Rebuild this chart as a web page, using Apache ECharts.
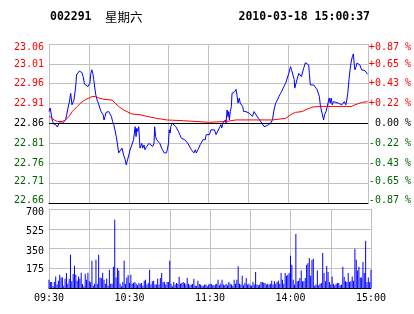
<!DOCTYPE html>
<html><head><meta charset="utf-8">
<script src="https://cdn.jsdelivr.net/npm/echarts@6/dist/echarts.min.js"></script>
<style>html,body{margin:0;padding:0;background:#fff}#c{width:414px;height:314px}</style>
</head><body><div id="c"></div>
<script>
const stockCode = '002291';
const weekday = '星期六';
const timestamp = '2010-03-18 15:00:37';
const prevClose = 22.86;
const priceTicks = [22.66, 22.71, 22.76, 22.81, 22.86, 22.91, 22.96, 23.01, 23.06];
const pctLabels = ['-0.87 %', '-0.65 %', '-0.43 %', '-0.22 %', '0.00 %', '+0.22 %', '+0.43 %', '+0.65 %', '+0.87 %'];
const timeLabels = ['09:30', '10:30', '11:30', '14:00', '15:00'];
const volTicks = [0, 175, 350, 525, 700];

const priceMinutes = [0,0.9,1.9,2.4,3.4,5.1,6.3,7.6,8.8,10.1,11.3,12.5,13.3,14.3,15.1,15.8,16.3,17.3,18.1,18.8,19.6,20.3,20.7,21.8,22.8,23.7,24.8,25.7,26.7,28.2,29.3,30.0,30.7,31.5,32.2,33.0,33.7,34.5,35.2,36.2,37.2,38.2,39.2,39.9,40.7,41.4,42.2,42.9,44.9,46.1,46.9,47.9,48.7,49.6,50.6,51.6,52.4,53.6,54.9,56.1,57.3,58.1,59.1,60.1,61.0,62.3,63.6,64.8,65.5,66.0,66.8,67.5,68.1,68.5,69.8,70.5,71.5,72.2,73.5,74.3,75.2,76.5,78.0,79.0,79.5,80.2,81.0,82.2,83.4,84.7,86.0,86.7,87.9,88.4,89.2,89.9,90.4,91.2,91.6,92.7,93.4,94.2,95.4,96.4,97.4,98.4,99.6,100.9,102.1,103.4,104.3,105.8,107.1,108.4,109.1,110.1,110.8,112.1,113.1,113.8,114.8,115.8,116.6,117.5,118.3,120.7,121.8,124.5,125.7,127.0,128.2,129.3,130.0,130.7,131.9,132.7,133.2,134.0,134.7,135.2,135.7,136.4,137.2,137.7,138.7,139.7,140.7,141.4,142.2,143.1,143.9,144.6,145.7,146.4,148.1,149.4,150.6,151.9,153.1,154.3,155.6,156.3,157.6,158.8,160.1,161.0,161.8,163.1,164.3,165.5,166.8,168.1,169.3,170.5,171.8,173.0,174.3,175.5,176.7,178.0,179.3,180.4,181.7,182.5,183.4,184.5,184.9,186.0,186.9,187.9,189.0,189.9,190.9,191.6,192.9,194.4,195.4,195.9,196.6,199.1,200.4,201.6,202.8,203.4,204.1,205.4,206.6,207.3,208.4,209.1,209.9,210.8,211.6,212.3,213.1,214.0,215.3,217.8,220.3,221.5,222.2,223.3,224.0,224.8,225.7,226.5,227.2,228.2,229.0,229.7,230.2,231.0,231.7,232.7,233.9,235.2,237.7,238.7,239.7];
const priceValues = [22.890,22.899,22.894,22.869,22.859,22.857,22.851,22.861,22.857,22.861,22.861,22.869,22.882,22.899,22.911,22.924,22.936,22.907,22.903,22.919,22.940,22.961,22.982,22.986,22.992,22.995,22.988,22.978,22.959,22.957,22.953,22.949,22.961,22.986,22.995,22.986,22.970,22.949,22.932,22.919,22.911,22.899,22.890,22.890,22.882,22.869,22.878,22.888,22.890,22.888,22.878,22.865,22.857,22.844,22.827,22.806,22.786,22.790,22.798,22.781,22.769,22.756,22.769,22.781,22.794,22.806,22.819,22.852,22.827,22.848,22.840,22.852,22.819,22.798,22.810,22.798,22.806,22.794,22.802,22.798,22.810,22.806,22.802,22.810,22.852,22.827,22.819,22.815,22.810,22.798,22.798,22.786,22.790,22.786,22.798,22.810,22.844,22.836,22.852,22.861,22.865,22.861,22.852,22.848,22.840,22.832,22.823,22.819,22.819,22.815,22.811,22.807,22.794,22.790,22.786,22.794,22.786,22.794,22.794,22.807,22.811,22.819,22.815,22.819,22.832,22.832,22.844,22.844,22.832,22.832,22.849,22.857,22.849,22.861,22.857,22.869,22.861,22.894,22.877,22.890,22.869,22.890,22.903,22.936,22.936,22.940,22.946,22.932,22.911,22.924,22.911,22.907,22.903,22.890,22.890,22.888,22.886,22.890,22.878,22.890,22.886,22.879,22.873,22.869,22.861,22.857,22.852,22.851,22.855,22.859,22.861,22.869,22.894,22.911,22.919,22.928,22.936,22.944,22.953,22.961,22.965,22.986,23.003,22.995,22.990,22.970,22.949,22.953,22.974,22.986,22.986,22.978,22.982,22.999,23.013,23.013,23.007,22.986,22.957,22.957,22.953,22.946,22.944,22.928,22.907,22.886,22.869,22.882,22.890,22.899,22.903,22.924,22.911,22.924,22.907,22.915,22.911,22.911,22.907,22.903,22.915,22.907,22.919,22.936,22.970,22.995,23.012,23.028,23.035,23.007,22.995,23.003,23.012,23.013,23.007,22.995,22.993,22.990,22.984];

const avgMinutes = [0,3.9,6.3,10.1,12.5,15.1,17.5,21.3,23.7,26.3,30.0,32.5,34.9,37.5,41.2,47.4,49.9,52.4,56.1,58.6,62.3,68.5,73.5,81.0,88.4,100.9,120.7,133.2,140.7,168.1,178.0,181.7,185.4,190.4,194.2,197.9,202.8,227.8,230.2,235.2,239.7];
const avgValues = [22.879,22.869,22.865,22.865,22.869,22.878,22.890,22.903,22.911,22.918,22.924,22.928,22.928,22.924,22.921,22.919,22.911,22.903,22.894,22.890,22.884,22.882,22.878,22.873,22.869,22.867,22.863,22.865,22.869,22.869,22.873,22.882,22.888,22.890,22.896,22.901,22.903,22.903,22.907,22.913,22.915];

const volumes = [
74,53,53,15,53,103,30,65,118,94,
94,21,83,133,38,83,295,59,124,198,
118,65,103,83,136,35,15,127,74,136,
59,50,242,21,38,251,35,295,94,89,
133,74,38,83,21,162,38,38,189,605,
94,177,154,38,15,53,242,35,94,112,
44,118,38,44,53,38,24,44,38,44,
21,65,74,30,44,162,30,59,65,30,
30,83,30,89,133,53,53,30,53,53,
242,35,15,53,30,44,38,100,38,44,
53,44,30,89,38,24,30,35,83,21,
21,65,35,30,21,21,30,30,15,30,
38,
35,24,24,30,38,74,24,38,74,30,
24,38,24,53,38,30,21,74,38,74,
192,38,30,109,24,44,89,30,38,24,
21,53,30,142,30,24,30,53,53,47,
44,30,38,30,38,65,30,59,38,53,
65,38,133,74,38,133,109,118,133,286,
207,74,30,478,59,65,89,154,59,59,
89,207,219,266,109,248,260,21,30,154,
24,38,44,310,133,59,195,142,53,30,
103,38,24,38,44,44,24,30,189,100,
59,53,133,53,59,103,65,348,251,154,
189,94,94,230,133,419,53,94,53,162
];

const MONO = "'DejaVu Sans Mono', monospace";
const RED = '#ff0000', GREEN = '#006400', GRIDC = '#c0c0c0', BLUE = '#0000ff';
const pStep = +(priceTicks[1] - priceTicks[0]).toFixed(2);
const nT = priceTicks.length - 1;
function tickIndex(v) { return Math.round((Number(v) - priceTicks[0]) / pStep); }
function colorFor(i) { return i === 4 ? '#000' : (i > 4 ? RED : GREEN); }
// small vertical nudges of the label text (px): negative = up
const labelShift = {0: -3, 1: -2, 7: 1, 8: 3};
function richFor(colorFn) {
  const r = {};
  for (let i = 0; i <= nT; i++) {
    const s = labelShift[i] || 0;
    r['p' + i] = {fontFamily: MONO, fontSize: 10, color: colorFn(i),
      padding: s >= 0 ? [2 * s, 0, 0, 0] : [0, 0, -2 * s, 0]};
  }
  return r;
}
const volShift = [0, 1, 2.5, 3, 3.5];
const volRich = {};
volTicks.forEach((t, i) => { volRich['v' + i] = {fontFamily: MONO, fontSize: 10, color: '#000', padding: [2 * volShift[i], 0, 0, 0]}; });

const chart = echarts.init(document.getElementById('c'), null, {renderer: 'canvas'});
const xBase = {type: 'value', min: 0, max: 240, interval: 30,
  axisLine: {show: true, lineStyle: {color: '#000', width: 1}}, axisTick: {show: false},
  splitLine: {show: true, lineStyle: {color: GRIDC, width: 1}}};
chart.setOption({
  animation: false,
  backgroundColor: '#fff',
  graphic: [
    {type: 'text', x: 50, y: 17, style: {text: stockCode, font: "bold 11.5px 'DejaVu Sans Mono'", fill: '#000', verticalAlign: 'middle'}},
    {type: 'text', x: 105, y: 17, style: {text: weekday, font: "12.5px 'Noto Sans CJK SC'", fill: '#000', verticalAlign: 'middle'}},
    {type: 'text', x: 370, y: 17, style: {text: timestamp, font: "bold 11.5px 'DejaVu Sans Mono'", fill: '#000', align: 'right', verticalAlign: 'middle'}}
  ],
  grid: [
    {left: 49, right: 43, top: 44, height: 159},
    {left: 49, right: 43, top: 209, height: 79}
  ],
  xAxis: [
    Object.assign({gridIndex: 0, axisLabel: {show: false}}, xBase),
    Object.assign({gridIndex: 1, axisLabel: {show: true, fontFamily: MONO, fontSize: 10, color: '#000', margin: 5,
      formatter: v => (v % 60 === 0 ? timeLabels[v / 60] : '')}}, xBase)
  ],
  yAxis: [
    {gridIndex: 0, type: 'value', position: 'left', min: priceTicks[0], max: priceTicks[nT], interval: pStep,
      axisLine: {show: false}, axisTick: {show: false},
      splitLine: {show: true, showMinLine: false, lineStyle: {color: GRIDC, width: 1}},
      axisLabel: {margin: 5, fontFamily: MONO, fontSize: 10,
        formatter: v => { const i = tickIndex(v); return '{p' + i + '|' + priceTicks[i].toFixed(2) + '}'; },
        rich: richFor(colorFor)}},
    {gridIndex: 0, type: 'value', position: 'right', min: priceTicks[0], max: priceTicks[nT], interval: pStep,
      axisLine: {show: false}, axisTick: {show: false}, splitLine: {show: false},
      axisLabel: {margin: 43, align: 'right', fontFamily: MONO, fontSize: 10,
        formatter: v => { const i = tickIndex(v); return '{p' + i + '|' + pctLabels[i] + '}'; },
        rich: richFor(colorFor)}},
    {gridIndex: 1, type: 'value', position: 'left', min: volTicks[0], max: volTicks[volTicks.length - 1], interval: volTicks[1] - volTicks[0],
      axisLine: {show: false}, axisTick: {show: false},
      splitLine: {show: true, showMinLine: false, lineStyle: {color: GRIDC, width: 1}},
      axisLabel: {margin: 5, fontFamily: MONO, fontSize: 10,
        formatter: v => { const i = volTicks.indexOf(v); return i <= 0 ? '' : '{v' + i + '|' + v + '}'; },
        rich: volRich}}
  ],
  series: [
    {type: 'line', xAxisIndex: 0, yAxisIndex: 0, data: priceMinutes.map((m, i) => [m, priceValues[i]]),
      showSymbol: false, symbol: 'none', lineStyle: {color: BLUE, width: 1}, itemStyle: {color: BLUE},
      markLine: {silent: true, symbol: 'none', label: {show: false},
        lineStyle: {color: '#000', type: 'solid', width: 1}, data: [{yAxis: prevClose}]}},
    {type: 'line', xAxisIndex: 0, yAxisIndex: 0, data: avgMinutes.map((m, i) => [m, avgValues[i]]),
      showSymbol: false, symbol: 'none', lineStyle: {color: RED, width: 1}, itemStyle: {color: RED}},
    {type: 'bar', xAxisIndex: 1, yAxisIndex: 2, data: volumes.map((v, i) => [i, v]),
      barWidth: 1, itemStyle: {color: BLUE}}
  ]
});
</script></body></html>
